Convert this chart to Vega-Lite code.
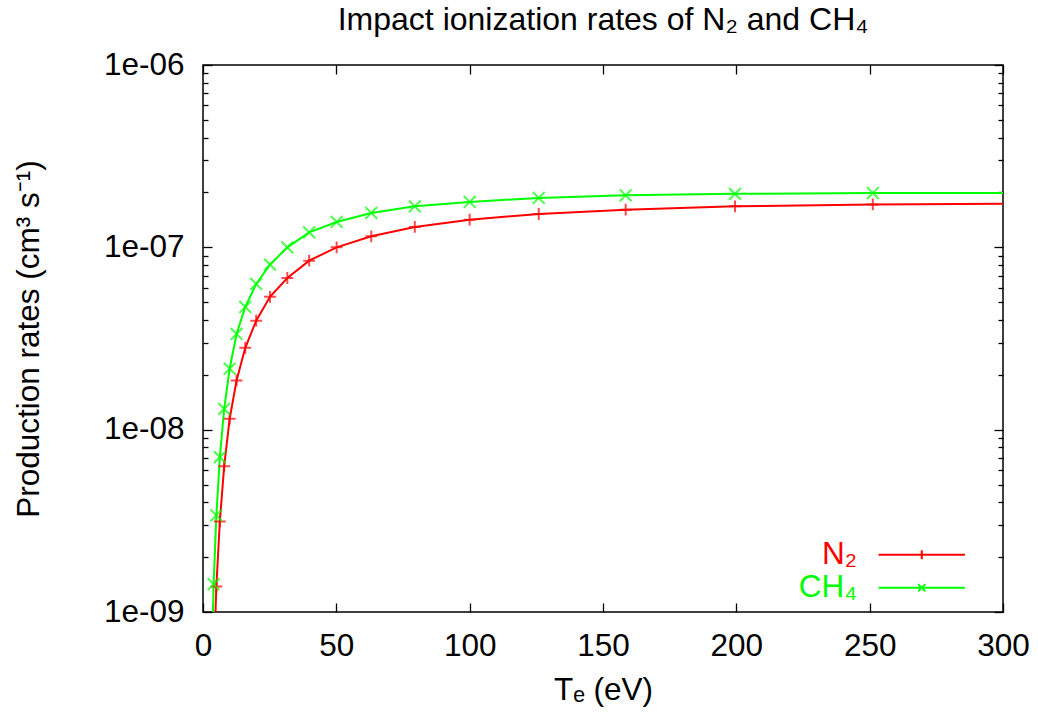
{
  "$schema": "https://vega.github.io/schema/vega-lite/v6.json",
  "width": 800,
  "height": 547,
  "autosize": {"type": "none"},
  "padding": {"left": 203, "top": 65, "right": 35, "bottom": 105},
  "title": {"text": "Impact ionization rates of N₂ and CH₄", "fontSize": 32, "font": "Liberation Sans", "fontWeight": "normal", "color": "#000000", "offset": 12},
  "config": {
    "font": "Liberation Sans",
    "view": {"stroke": "#000000", "strokeWidth": 1.5},
    "axis": {"domain": false, "grid": false, "tickColor": "#000000", "tickWidth": 1.3, "labelFontSize": 31.5, "labelColor": "#000000", "titleFontSize": 31.5, "titleFontWeight": "normal", "titleColor": "#000000", "labelFont": "Liberation Sans", "titleFont": "Liberation Sans", "labelFlush": false}
  },
  "data": {"values": [
    {"T": 3.162, "rate": 4.5e-10, "gas": "CH₄"},
    {"T": 3.981, "rate": 1.42e-9, "gas": "CH₄"},
    {"T": 5.012, "rate": 3.39e-9, "gas": "CH₄"},
    {"T": 6.310, "rate": 7.07e-9, "gas": "CH₄"},
    {"T": 7.943, "rate": 1.30e-8, "gas": "CH₄"},
    {"T": 10.0, "rate": 2.16e-8, "gas": "CH₄"},
    {"T": 12.59, "rate": 3.35e-8, "gas": "CH₄"},
    {"T": 15.85, "rate": 4.71e-8, "gas": "CH₄"},
    {"T": 19.95, "rate": 6.30e-8, "gas": "CH₄"},
    {"T": 25.12, "rate": 8.04e-8, "gas": "CH₄"},
    {"T": 31.62, "rate": 1.0e-7, "gas": "CH₄"},
    {"T": 39.81, "rate": 1.208e-7, "gas": "CH₄"},
    {"T": 50.12, "rate": 1.378e-7, "gas": "CH₄"},
    {"T": 63.10, "rate": 1.543e-7, "gas": "CH₄"},
    {"T": 79.43, "rate": 1.678e-7, "gas": "CH₄"},
    {"T": 100.0, "rate": 1.774e-7, "gas": "CH₄"},
    {"T": 125.9, "rate": 1.866e-7, "gas": "CH₄"},
    {"T": 158.5, "rate": 1.93e-7, "gas": "CH₄"},
    {"T": 199.5, "rate": 1.965e-7, "gas": "CH₄"},
    {"T": 251.2, "rate": 1.985e-7, "gas": "CH₄"},
    {"T": 316.2, "rate": 1.99e-7, "gas": "CH₄"},
    {"T": 3.981, "rate": 5.0e-10, "gas": "N₂"},
    {"T": 5.012, "rate": 1.38e-9, "gas": "N₂"},
    {"T": 6.310, "rate": 3.14e-9, "gas": "N₂"},
    {"T": 7.943, "rate": 6.31e-9, "gas": "N₂"},
    {"T": 10.0, "rate": 1.148e-8, "gas": "N₂"},
    {"T": 12.59, "rate": 1.862e-8, "gas": "N₂"},
    {"T": 15.85, "rate": 2.81e-8, "gas": "N₂"},
    {"T": 19.95, "rate": 3.96e-8, "gas": "N₂"},
    {"T": 25.12, "rate": 5.35e-8, "gas": "N₂"},
    {"T": 31.62, "rate": 6.79e-8, "gas": "N₂"},
    {"T": 39.81, "rate": 8.45e-8, "gas": "N₂"},
    {"T": 50.12, "rate": 1.0e-7, "gas": "N₂"},
    {"T": 63.10, "rate": 1.149e-7, "gas": "N₂"},
    {"T": 79.43, "rate": 1.294e-7, "gas": "N₂"},
    {"T": 100.0, "rate": 1.418e-7, "gas": "N₂"},
    {"T": 125.9, "rate": 1.524e-7, "gas": "N₂"},
    {"T": 158.5, "rate": 1.609e-7, "gas": "N₂"},
    {"T": 199.5, "rate": 1.678e-7, "gas": "N₂"},
    {"T": 251.2, "rate": 1.72e-7, "gas": "N₂"},
    {"T": 316.2, "rate": 1.74e-7, "gas": "N₂"}
  ]},
  "resolve": {"axis": {"x": "independent", "y": "independent"}},
  "layer": [
    {
      "mark": {"type": "line", "clip": true, "strokeWidth": 2},
      "encoding": {
        "x": {"field": "T", "type": "quantitative", "scale": {"domain": [0, 300], "nice": false, "zero": false},
              "axis": {"orient": "bottom", "values": [0, 50, 100, 150, 200, 250, 300], "tickSize": -9, "labelPadding": 27, "title": "Tₑ (eV)", "titlePadding": 13}},
        "y": {"field": "rate", "type": "quantitative", "scale": {"type": "log", "domain": [1e-9, 1e-6], "nice": false},
              "axis": {"orient": "left", "values": [1e-9, 1e-8, 1e-7, 1e-6], "tickSize": -9, "labelPadding": 28, "labelExpr": "'1e-0' + round(-log(datum.value)/LN10)", "title": "Production rates (cm³ s⁻¹)", "titlePadding": 58}},
        "color": {"field": "gas", "type": "nominal", "scale": {"domain": ["N₂", "CH₄"], "range": ["#ff0000", "#00ff00"]},
                  "legend": {"orient": "none", "legendX": 703, "legendY": 474, "title": null, "padding": 0, "rowPadding": 0,
                             "labelFontSize": 31.5, "labelAlign": "right", "labelOffset": -80.5, "labelBaseline": "middle",
                             "labelColor": {"expr": "datum.value == 'N₂' ? '#ff0000' : '#00ff00'"},
                             "symbolType": {"expr": "datum.value == 'N₂' ? 'M-9.6,0L9.6,0M0,-1L0,1' : 'M-9.6,0L9.6,0M-0.8,-0.8L0.8,0.8M-0.8,0.8L0.8,-0.8'"},
                             "symbolSize": 81, "symbolStrokeWidth": 2}}
      }
    },
    {
      "transform": [{"filter": "datum.gas == 'N₂'"}],
      "mark": {"type": "point", "clip": true, "filled": false, "strokeWidth": 2, "size": 140, "shape": "M-1,0L1,0M0,-1L0,1"},
      "encoding": {
        "x": {"field": "T", "type": "quantitative", "axis": {"orient": "top", "values": [0, 50, 100, 150, 200, 250, 300], "tickSize": -9, "labels": false, "title": null}},
        "y": {"field": "rate", "type": "quantitative", "axis": {"orient": "right", "values": [1e-9, 1e-8, 1e-7, 1e-6], "tickSize": -9, "labels": false, "title": null}},
        "color": {"field": "gas", "type": "nominal", "legend": null}
      }
    },
    {
      "transform": [{"filter": "datum.gas == 'CH₄'"}],
      "mark": {"type": "point", "clip": true, "filled": false, "strokeWidth": 2, "size": 140, "shape": "M-1,-1L1,1M-1,1L1,-1"},
      "encoding": {
        "x": {"field": "T", "type": "quantitative", "axis": null},
        "y": {"field": "rate", "type": "quantitative", "axis": null},
        "color": {"field": "gas", "type": "nominal", "legend": null}
      }
    },
    {
      "mark": {"type": "point", "opacity": 0},
      "encoding": {
        "x": {"field": "T", "type": "quantitative", "axis": null},
        "y": {"field": "rate", "type": "quantitative", "axis": {"orient": "left", "values": [2e-9, 3e-9, 4e-9, 5e-9, 6e-9, 7e-9, 8e-9, 9e-9, 2e-8, 3e-8, 4e-8, 5e-8, 6e-8, 7e-8, 8e-8, 9e-8, 2e-7, 3e-7, 4e-7, 5e-7, 6e-7, 7e-7, 8e-7, 9e-7], "tickSize": -5, "labels": false, "title": null}}
      }
    },
    {
      "mark": {"type": "point", "opacity": 0},
      "encoding": {
        "x": {"field": "T", "type": "quantitative", "axis": null},
        "y": {"field": "rate", "type": "quantitative", "axis": {"orient": "right", "values": [2e-9, 3e-9, 4e-9, 5e-9, 6e-9, 7e-9, 8e-9, 9e-9, 2e-8, 3e-8, 4e-8, 5e-8, 6e-8, 7e-8, 8e-8, 9e-8, 2e-7, 3e-7, 4e-7, 5e-7, 6e-7, 7e-7, 8e-7, 9e-7], "tickSize": -5, "labels": false, "title": null}}
      }
    }
  ]
}
